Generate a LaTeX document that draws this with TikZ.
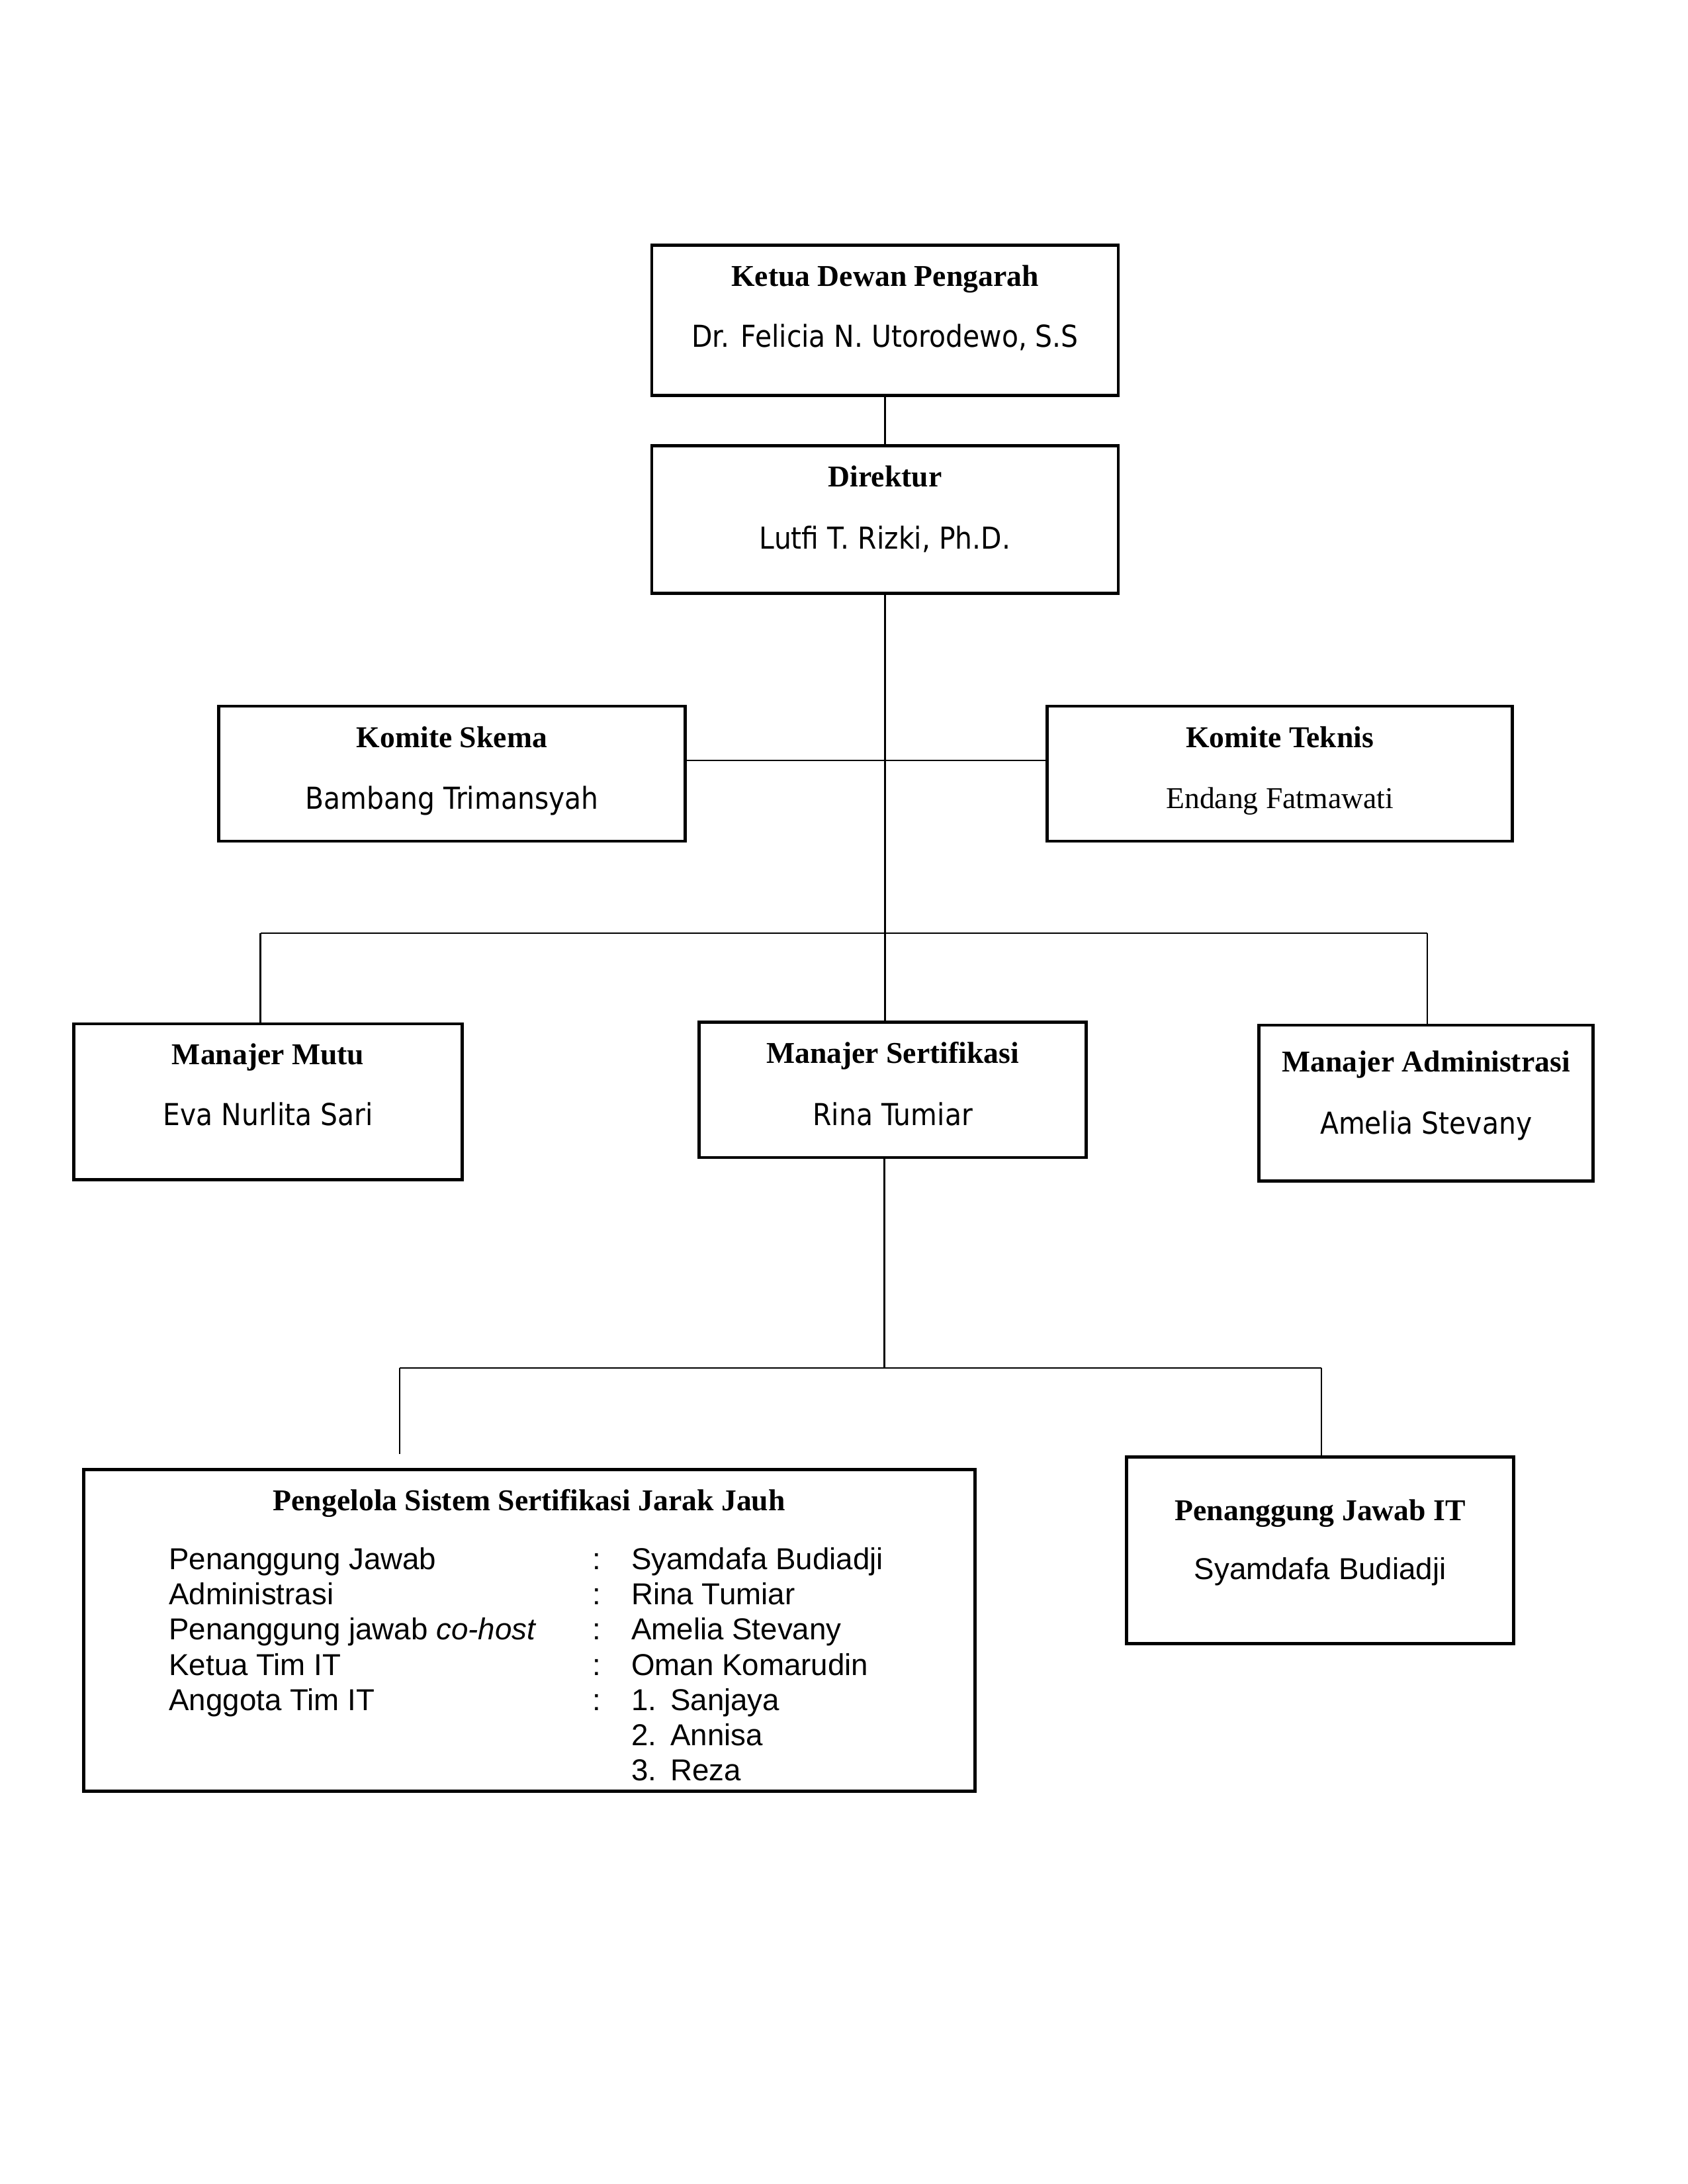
\documentclass[tikz,border=0pt]{standalone}
\usepackage{fontspec}
\setmainfont{Liberation Serif}
\newfontfamily\tah[FakeStretch=0.895]{DejaVu Sans}
\newfontfamily\ari{Liberation Sans}
\usetikzlibrary{fit}
\begin{document}
\begin{tikzpicture}[x=0.50685pt,y=-0.50685pt,
  box/.style={draw, line width=1.1pt, inner sep=0pt},
  ttl/.style={font=\fontsize{11}{13}\selectfont\bfseries, anchor=base, inner sep=0pt},
  nm/.style={font=\tah\fontsize{11}{13}\selectfont, anchor=base, inner sep=0pt},
  nmt/.style={font=\fontsize{11}{13}\selectfont, anchor=base, inner sep=0pt},
  nma/.style={font=\ari\fontsize{11}{13}\selectfont, anchor=base, inner sep=0pt},
  lst/.style={font=\ari\fontsize{11}{13}\selectfont, anchor=base west, inner sep=0pt},
  conn/.style={line width=0.55pt}]
\useasboundingbox (0,0) rectangle (1212,1568);

% boxes
\node[box, fit={(468,176) (803,284)}] (ketua) {};
\node[box, fit={(468,320) (803,426)}] (direktur) {};
\node[box, fit={(157,507) (492,604)}] (skema) {};
\node[box, fit={(752,507) (1086,604)}] (teknis) {};
\node[box, fit={(53,735) (332,847)}] (mutu) {};
\node[box, fit={(502,734) (780,831)}] (sert) {};
\node[box, fit={(904,736) (1144,848)}] (admin) {};
\node[box, fit={(60,1055) (700,1286)}] (pengelola) {};
\node[box, fit={(809,1046) (1087,1180)}] (pjit) {};

% texts
\node[ttl] (t1) at (635.5,205.5) {Ketua Dewan Pengarah};
\node[nm]  (n1) at (635.5,249) {Dr. Felicia N. Utorodewo, S.S};
\node[ttl] (t2) at (635.5,349.5) {Direktur};
\node[nm]  (n2) at (635.5,394) {Lutfi T. Rizki, Ph.D.};
\node[ttl] (t3) at (324.5,536.5) {Komite Skema};
\node[nm]  (n3) at (324.5,581) {Bambang Trimansyah};
\node[ttl] (t4) at (919,536.5) {Komite Teknis};
\node[nmt] (n4) at (919,580.5) {Endang Fatmawati};
\node[ttl] (t5) at (192.5,764.5) {Manajer Mutu};
\node[nm]  (n5) at (192.5,808) {Eva Nurlita Sari};
\node[ttl] (t6) at (641,763.5) {Manajer Sertifikasi};
\node[nm]  (n6) at (641,808) {Rina Tumiar};
\node[ttl] (t7) at (1024,769.5) {Manajer Administrasi};
\node[nm]  (n7) at (1024,814) {Amelia Stevany};
\node[ttl] (t8) at (380,1084.5) {Pengelola Sistem Sertifikasi Jarak Jauh};
\node[ttl] (t9) at (948,1091.5) {Penanggung Jawab IT};
\node[nma] (n9) at (948,1134) {Syamdafa Budiadji};

% list
\node[lst] (l1) at (121,1127) {Penanggung Jawab};
\node[lst] (l2) at (121,1152.2) {Administrasi};
\node[lst] (l3) at (121,1177.4) {Penanggung jawab \textit{co-host}};
\node[lst] (l4) at (121,1202.6) {Ketua Tim IT};
\node[lst] (l5) at (121,1227.8) {Anggota Tim IT};
\node[lst] (c1) at (425,1127) {:};
\node[lst] (c2) at (425,1152.2) {:};
\node[lst] (c3) at (425,1177.4) {:};
\node[lst] (c4) at (425,1202.6) {:};
\node[lst] (c5) at (425,1227.8) {:};
\node[lst] (v1) at (453,1127) {Syamdafa Budiadji};
\node[lst] (v2) at (453,1152.2) {Rina Tumiar};
\node[lst] (v3) at (453,1177.4) {Amelia Stevany};
\node[lst] (v4) at (453,1202.6) {Oman Komarudin};
\node[lst] (v5) at (453,1227.8) {\makebox[14.2pt][l]{1.}Sanjaya};
\node[lst] (v6) at (453,1253) {\makebox[14.2pt][l]{2.}Annisa};
\node[lst] (v7) at (453,1278.2) {\makebox[14.2pt][l]{3.}Reza};

% connectors
\coordinate (j1) at (635,670);
\coordinate (kl) at (635,546);
\coordinate (j1l) at (187,670);
\coordinate (j1r) at (1025,670);
\coordinate (j2) at (635,982);
\coordinate (j2l) at (287,982);
\coordinate (j2r) at (949,982);
\coordinate (pgend) at (287,1044);

\draw[conn] (ketua.south) -- (direktur.north);
\draw[conn] (direktur.south) -- (direktur.south |- j1);
\draw[conn] (skema.east |- kl) -- (teknis.west |- kl);
\draw[conn] (j1l) -- (j1r);
\draw[conn] (j1l) -- (j1l |- mutu.north);
\draw[conn] (direktur.south |- j1) -- (direktur.south |- sert.north);
\draw[conn] (j1r) -- (j1r |- admin.north);
\draw[conn] (sert.south -| j1) -- (j2);
\draw[conn] (j2l) -- (j2r);
\draw[conn] (j2l) -- (pgend);
\draw[conn] (j2r) -- (j2r |- pjit.north);
\end{tikzpicture}
\end{document}
